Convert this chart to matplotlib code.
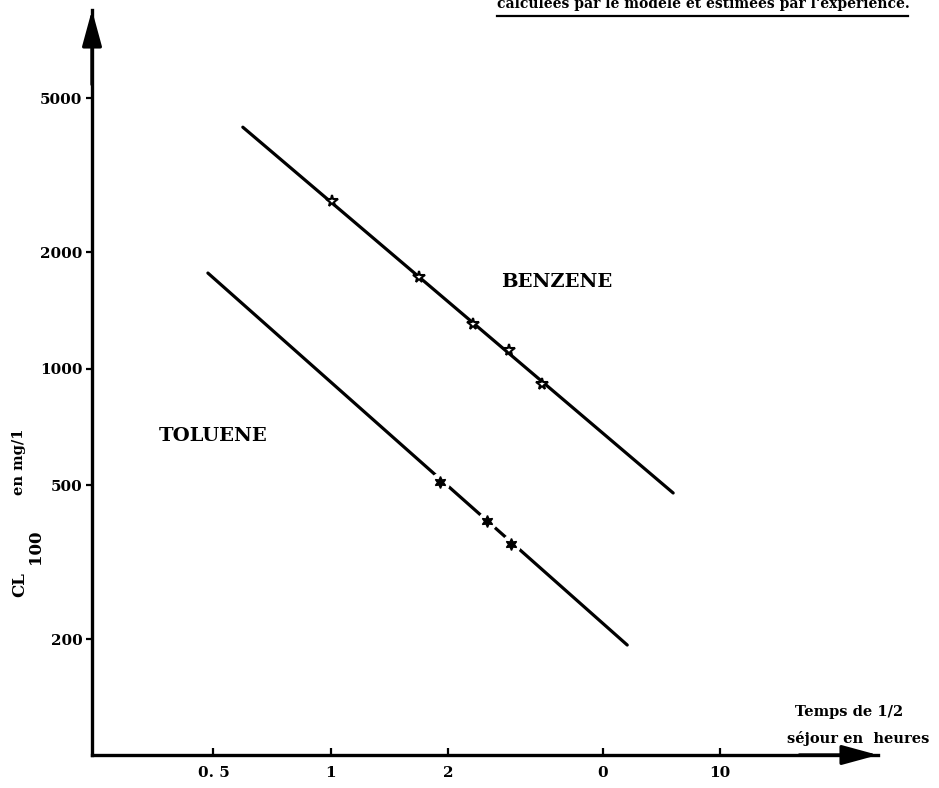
import matplotlib
matplotlib.use("Agg")
import matplotlib.pyplot as plt
from matplotlib.ticker import FixedLocator, FixedFormatter, NullLocator

# Half-residence time (hours) vs CL100 (mg/l), log-log
benzene_line_t = [0.595, 7.57]
benzene_line_cl = [4207, 477]
benzene_pts_t = [1.01, 1.686, 2.32, 2.87, 3.49]
benzene_pts_cl = [2710, 1725, 1304, 1117, 912]

toluene_line_t = [0.484, 5.77]
toluene_line_cl = [1766, 193]
toluene_pts_t = [1.909, 2.52, 2.90]
toluene_pts_cl = [509, 404, 352]

x_ticks = [0.5, 1, 2, 5, 10]
x_tick_labels = ["0. 5", "1", "2", "0", "10"]
y_ticks = [200, 500, 1000, 2000, 5000]
y_tick_labels = ["200", "500", "1000", "2000", "5000"]

W, H = 939, 788
fig = plt.figure(figsize=(W / 100, H / 100), dpi=100)
fig.patch.set_facecolor("white")

L, R, B, T = 92, 878, 755, 10
ax = fig.add_axes([L / W, (H - B) / H, (R - L) / W, (B - T) / H])
ax.set_xscale("log")
ax.set_yscale("log")
ax.set_xlim(0.244, 25.4)
ax.set_ylim(100.3, 8450)

serif = "DejaVu Serif"

for s in ("top", "right"):
    ax.spines[s].set_visible(False)
for s in ("left", "bottom"):
    ax.spines[s].set_linewidth(2.4)

ax.xaxis.set_major_locator(FixedLocator(x_ticks))
ax.xaxis.set_major_formatter(FixedFormatter(x_tick_labels))
ax.xaxis.set_minor_locator(NullLocator())
ax.yaxis.set_major_locator(FixedLocator(y_ticks))
ax.yaxis.set_major_formatter(FixedFormatter(y_tick_labels))
ax.yaxis.set_minor_locator(NullLocator())
ax.tick_params(axis="x", direction="in", length=5, width=1.6, pad=8)
ax.tick_params(axis="y", direction="out", length=4, width=1.6, pad=3)
for lab in ax.get_xticklabels() + ax.get_yticklabels():
    lab.set_fontfamily(serif)
    lab.set_fontweight("bold")
    lab.set_fontsize(11)

# axis arrowheads
arrow_kw = dict(arrowstyle="-|>,head_length=1.1,head_width=0.3", lw=2.4,
                color="black", shrinkA=0, shrinkB=0, mutation_scale=20)
ax.annotate("", xy=(0, 1), xytext=(0, 0.9), xycoords="axes fraction",
            arrowprops=arrow_kw, annotation_clip=False)
ax.annotate("", xy=(1, 0), xytext=(0.9, 0), xycoords="axes fraction",
            arrowprops=arrow_kw, annotation_clip=False)

# Benzene
ax.plot(benzene_line_t, benzene_line_cl, color="black", lw=2.3,
        solid_capstyle="round", zorder=2)
ax.plot(benzene_pts_t, benzene_pts_cl, ls="none", marker="*", ms=8.5,
        mfc="white", mec="black", mew=1.5, zorder=3)

# Toluene (line broken around each point)
ax.plot(toluene_line_t, toluene_line_cl, color="black", lw=2.3,
        solid_capstyle="round", zorder=2)
ax.plot(toluene_pts_t, toluene_pts_cl, ls="none", marker="o", ms=13,
        mfc="white", mec="white", zorder=3)
ax.plot(toluene_pts_t, toluene_pts_cl, ls="none", marker=(6, 1, 0), ms=8.5,
        mfc="black", mec="black", mew=1.0, zorder=4)

ax.text(3.81, 1675, "BENZENE", family=serif, weight="bold", fontsize=14,
        ha="center", va="center")
ax.text(0.50, 670, "TOLUENE", family=serif, weight="bold", fontsize=14,
        ha="center", va="center")

def px(x, y):
    return x / W, 1 - y / H

# axis titles
fig.text(*px(20, 585), "CL", family=serif, weight="bold", fontsize=12,
         rotation=90, ha="center", va="center")
fig.text(*px(36, 547), "100", family=serif, weight="bold", fontsize=12,
         rotation=90, ha="center", va="center")
fig.text(*px(19, 462), "en mg/1", family=serif, weight="bold", fontsize=10.5,
         rotation=90, ha="center", va="center")

fig.text(*px(849, 712), "Temps de 1/2", family=serif, weight="bold",
         fontsize=10.5, ha="center", va="center")
fig.text(*px(858, 738), "séjour en  heures", family=serif, weight="bold",
         fontsize=10.5, ha="center", va="center")

# heading line, running off the top edge
fig.text(*px(497, 8), "calculées par le modèle et estimées par l'expérience.",
         family=serif, weight="bold", fontsize=10, ha="left", va="baseline")
fig.add_artist(plt.Line2D([497 / W, 908 / W], [1 - 15.5 / H, 1 - 15.5 / H],
                          color="black", lw=1.6, transform=fig.transFigure))

fig.savefig("out.png", dpi=100, facecolor="white")
